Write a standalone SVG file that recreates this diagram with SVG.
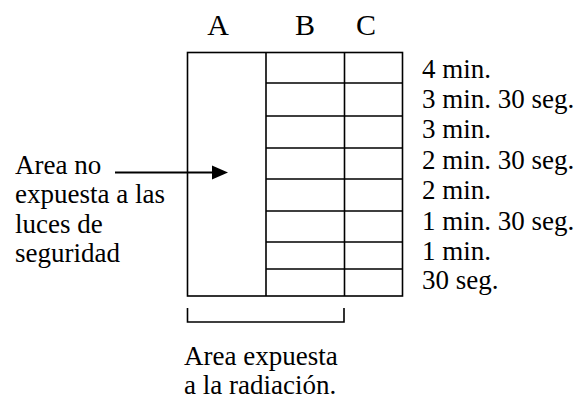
<svg xmlns="http://www.w3.org/2000/svg" width="581" height="402" viewBox="0 0 581 402" xml:lang="es">
<rect width="581" height="402" fill="#fff"/>
<g id="headers">
<text x="218" y="35" font-family="Liberation Serif" font-size="30" text-anchor="middle">A</text>
<text x="305" y="35" font-family="Liberation Serif" font-size="30" text-anchor="middle">B</text>
<text x="366" y="35" font-family="Liberation Serif" font-size="30" text-anchor="middle">C</text>
</g>
<g id="grid" stroke="#000" stroke-width="1.6" fill="none">
<rect x="187.5" y="52.5" width="215" height="243.5"/>
<line x1="266" y1="52.5" x2="266" y2="296"/>
<line x1="344.5" y1="52.5" x2="344.5" y2="296"/>
<path d="M266,83H402.5M266,116H402.5M266,148H402.5M266,179H402.5M266,211H402.5M266,242H402.5M266,269H402.5"/>
</g>
<g id="times">
<text x="422" y="78" font-family="Liberation Serif" font-size="27">4 min.</text>
<text x="422" y="108" font-family="Liberation Serif" font-size="27">3 min. 30 seg.</text>
<text x="422" y="138" font-family="Liberation Serif" font-size="27">3 min.</text>
<text x="422" y="169" font-family="Liberation Serif" font-size="27">2 min. 30 seg.</text>
<text x="422" y="199" font-family="Liberation Serif" font-size="27">2 min.</text>
<text x="422" y="230" font-family="Liberation Serif" font-size="27">1 min. 30 seg.</text>
<text x="422" y="260" font-family="Liberation Serif" font-size="27">1 min.</text>
<text x="422" y="289" font-family="Liberation Serif" font-size="27">30 seg.</text>
</g>
<g id="unexposed">
<text x="15" y="174" font-family="Liberation Serif" font-size="27">Area no</text>
<text x="15" y="203" font-family="Liberation Serif" font-size="27">expuesta a las</text>
<text x="15" y="233" font-family="Liberation Serif" font-size="27">luces de</text>
<text x="15" y="262" font-family="Liberation Serif" font-size="27">seguridad</text>
</g>
<g id="exposed">
<text x="184" y="365" font-family="Liberation Serif" font-size="27">Area expuesta</text>
<text x="184" y="394" font-family="Liberation Serif" font-size="27">a la radiaci&#243;n.</text>
</g>
<g id="connectors">
<line x1="115" y1="172.5" x2="214" y2="172.5" stroke="#000" stroke-width="1.8"/>
<polygon points="212,165.5 228,172.5 212,179.5" fill="#000"/>
<path d="M187.5,308V322H344V308" stroke="#000" stroke-width="1.6" fill="none"/>
</g>
</svg>
